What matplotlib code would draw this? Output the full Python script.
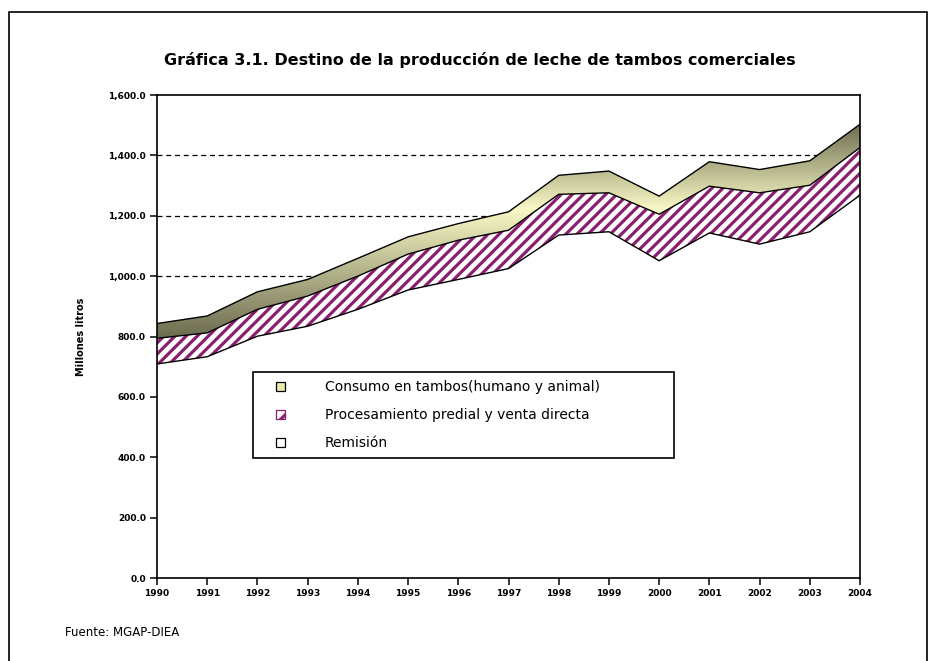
import numpy as np
import matplotlib
matplotlib.use("Agg")
import matplotlib.pyplot as plt
from matplotlib.colors import LinearSegmentedColormap
from matplotlib.patches import Patch, Rectangle
from matplotlib.legend_handler import HandlerPatch
from matplotlib.ticker import FuncFormatter

# data (millones de litros)
years = [1990, 1991, 1992, 1993, 1994, 1995, 1996, 1997,
         1998, 1999, 2000, 2001, 2002, 2003, 2004]
remision = [709, 733, 801, 834, 890, 954, 989, 1025,
            1136, 1147, 1051, 1143, 1106, 1147, 1268]
procesamiento = [85, 79, 89, 100, 110, 119, 130, 127,
                 135, 129, 154, 155, 170, 154, 158]
consumo = [49, 56, 58, 55, 59, 57, 55, 61,
           63, 72, 60, 81, 77, 81, 77]
y_ticks = [0, 200, 400, 600, 800, 1000, 1200, 1400, 1600]
labels = ["Consumo en tambos(humano y animal)",
          "Procesamiento predial y venta directa",
          "Remisión"]

PURPLE = "#8a1f6e"
plt.rcParams["hatch.linewidth"] = 2.3

x = np.array(years)
low = np.array(remision)
mid = low + np.array(procesamiento)
top = mid + np.array(consumo)

fig = plt.figure(figsize=(9.35, 6.61), dpi=100)
ax = fig.add_axes([157 / 935, 1 - 578 / 661, 703 / 935, 483 / 661])

# gridlines (hidden under the white areas, like excel)
for v in y_ticks[1:-1]:
    ax.axhline(v, color="black", lw=0.9, ls=(0, (4, 3)), zorder=0)

# remision: white area
ax.fill_between(x, 0, low, facecolor="white", edgecolor="none", zorder=1)

# procesamiento: white with purple hatch
ax.fill_between(x, low, mid, facecolor="white", zorder=1)
ax.fill_between(x, low, mid, facecolor="none", edgecolor=PURPLE,
                hatch="///", lw=0, zorder=2)

# consumo: dark-pale-dark vertical gradient
band = ax.fill_between(x, mid, top, facecolor="none", edgecolor="none", zorder=3)
cmap = LinearSegmentedColormap.from_list(
    "olive", [(0.0, "#66664a"), (0.6, "#f8f8c6"), (1.0, "#66664a")])
grad = np.linspace(0, 1, 256).reshape(-1, 1)
img = ax.imshow(grad, cmap=cmap, origin="lower", aspect="auto",
                extent=[1990, 2004, 780, 1520], zorder=3, interpolation="bilinear")
img.set_clip_path(band.get_paths()[0], transform=ax.transData)

for line in (low, mid, top):
    ax.plot(x, line, color="black", lw=1.0, zorder=4)

ax.set_xlim(1990, 2004)
ax.set_ylim(0, 1600)
ax.set_xticks(years)
ax.set_yticks(y_ticks)
ax.yaxis.set_major_formatter(FuncFormatter(lambda v, p: f"{v:,.1f}"))
for s in ax.spines.values():
    s.set_linewidth(1.2)
    s.set_zorder(5)
ax.tick_params(axis="both", direction="out", length=5, width=1.1,
               labelsize=6.5, pad=3)
for t in ax.get_xticklabels() + ax.get_yticklabels():
    t.set_fontweight("bold")
ax.set_ylabel("Millones litros", fontsize=7, fontweight="bold", labelpad=16)

fig.text(480 / 935, 1 - 60 / 661,
         "Gráfica 3.1. Destino de la producción de leche de tambos comerciales",
         ha="center", va="center", fontsize=11.5, fontweight="bold")
fig.text(65 / 935, 1 - 633 / 661, "Fuente: MGAP-DIEA", fontsize=8.5,
         ha="left", va="center")


def small_square(legend, orig_handle, xdescent, ydescent, width, height, fontsize):
    s = 6.5
    return Rectangle((width / 2 - s / 2 - xdescent, height / 2 - s / 2 - ydescent), s, s)


handles = [Patch(facecolor="#eaeaae", edgecolor="black", lw=0.9),
           Patch(facecolor="white", edgecolor=PURPLE, hatch="//", lw=0.9),
           Patch(facecolor="white", edgecolor="black", lw=0.9)]
leg = fig.legend(handles, labels, loc="upper left",
                 bbox_to_anchor=(253 / 935, 1 - 372 / 661 - 0.1, 421 / 935, 0.1),
                 mode="expand", fontsize=10, frameon=True, fancybox=False,
                 framealpha=1, edgecolor="black", handlelength=2.8,
                 handleheight=0.8, handletextpad=1.75, borderpad=0.6,
                 labelspacing=1.0, borderaxespad=0,
                 handler_map={Patch: HandlerPatch(patch_func=small_square)})
leg.get_frame().set_linewidth(1.2)
leg.get_frame().set_boxstyle("square", pad=0)
leg.set_zorder(10)

# outer frame
fig.patches.append(Rectangle((9 / 935, -0.05), 918 / 935, 1.05 - 12 / 661,
                             transform=fig.transFigure, fill=False,
                             edgecolor="black", lw=1.2))

fig.savefig("out.png", dpi=100)
